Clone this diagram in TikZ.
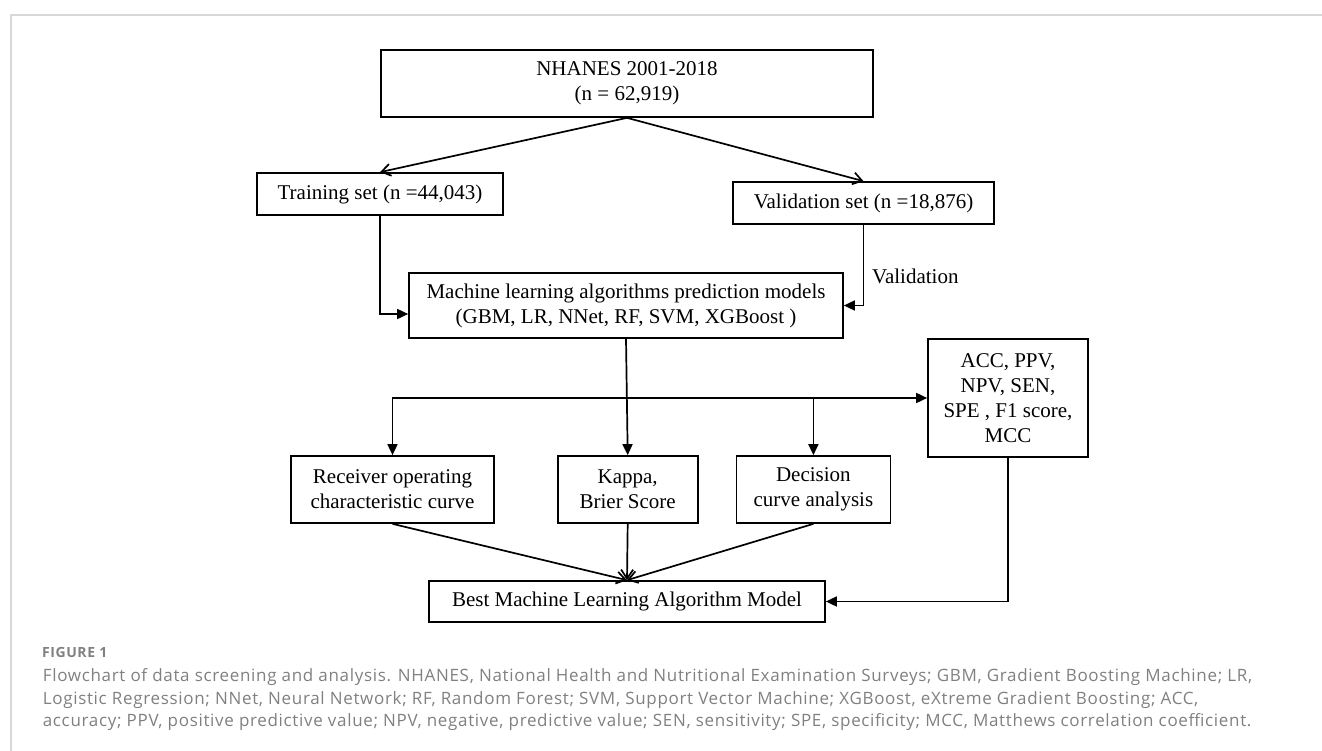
\documentclass[tikz,border=0pt]{standalone}
\usepackage{fontspec}
\setmainfont{Liberation Serif}
\newfontfamily\capfont[LetterSpace=4]{Open Sans}
\usetikzlibrary{calc,
arrows.meta,
positioning}
\definecolor{captext}{RGB}{128,128,128}
\definecolor{framegray}{RGB}{215,215,215}

\begin{document}
\begin{tikzpicture} [x=1pt,
    y=-1pt,
    line width=1.7pt,
    >={Triangle[length=11pt, width=10pt]},
    main node/.style={rectangle, draw, inner sep=0pt,
        align=center, font=\fontsize{21}{25}\selectfont},
    open arrow/.style={-{Straight Barb[length=9pt, width=12pt]}}
  ]

  \useasboundingbox (0,0) rectangle (1322,751);
  \draw [framegray, line width=1.2pt] (11,751) -- (11,15) -- (1322,15);

  \node [main node,
    minimum width = 492,
    minimum height = 67
  ] (nhanes) at (627, 83.5) {NHANES 2001-2018\\(n = 62,919)};

  \node [main node,
    minimum width = 246,
    minimum height = 42
  ] (train) at (380, 194) {Training set (n =44,043)};

  \node [main node,
    minimum width = 261,
    minimum height = 42
  ] (valid) at (863.5, 203) {Validation set (n =18,876)};

  \node [main node,
    minimum width = 434,
    minimum height = 65
  ] (ml) at (626, 305.5) {Machine learning algorithms prediction models\\(GBM, LR, NNet, RF, SVM, XGBoost )};

  \node [main node,
    minimum width = 160,
    minimum height = 118
  ] (acc) at (1008, 398) {ACC, PPV,\\NPV, SEN,\\SPE , F1 score,\\MCC};

  \node [main node,
    minimum width = 203,
    minimum height = 67
  ] (roc) at (392.5, 489.5) {Receiver operating\\characteristic curve};

  \node [main node,
    minimum width = 140,
    minimum height = 67,
    right = 62pt of roc
  ] (kappa) {Kappa,\\Brier Score};

  \node [main node,
    minimum width = 154,
    minimum height = 67,
    right = 37pt of kappa
  ] (dca) {Decision\\curve analysis};

  \node [main node,
    minimum width = 396,
    minimum height = 41
  ] (best) at (627, 601.5) {Best Machine Learning Algorithm Model};

  \node [anchor=west, font=\fontsize{21}{25}\selectfont
  ] (vallabel) at (868, 276) {Validation};

  %%%%%%%%%%%%%%%%%%%%%%%%%%%%%%

  \draw [open arrow] (nhanes.south) -- (train.north);
  \draw [open arrow] (nhanes.south) -- (valid.north);
  \draw [->] (train.south) |- ($(ml.west) + (0, 8.5)$);
  \draw [->] (valid.south) |- (ml.east);
  \draw [->] (ml.south) -- (kappa.north);
  \draw [<->] (roc.north) |- (acc.west);
  \draw [->] (dca.north |- acc.west) -- (dca.north);
  \draw [open arrow] (roc.south) -- (best.north);
  \draw [open arrow] (kappa.south) -- (best.north);
  \draw [open arrow] (dca.south) -- (best.north);
  \draw [->] (acc.south) |- (best.east);

  %%%%%%%%%%%%%%%%%%%%%%%%%%%%%%

  \node [anchor=west, text=captext,
    font=\capfont\bfseries\fontsize{14}{16}\selectfont
  ] (figlabel) at (38, 652) {FIGURE 1};

  \node [anchor=north west, align=left, inner sep=0pt, text=captext,
    font=\capfont\fontsize{17}{22.5}\selectfont
  ] (caption) at (42, 668) {Flowchart of data screening and analysis. NHANES, National Health and Nutritional Examination Surveys; GBM, Gradient Boosting Machine; LR,\\
  Logistic Regression; NNet, Neural Network; RF, Random Forest; SVM, Support Vector Machine; XGBoost, eXtreme Gradient Boosting; ACC,\\
  accuracy; PPV, positive predictive value; NPV, negative, predictive value; SEN, sensitivity; SPE, specificity; MCC, Matthews correlation coefficient.};

\end{tikzpicture}
\end{document}
